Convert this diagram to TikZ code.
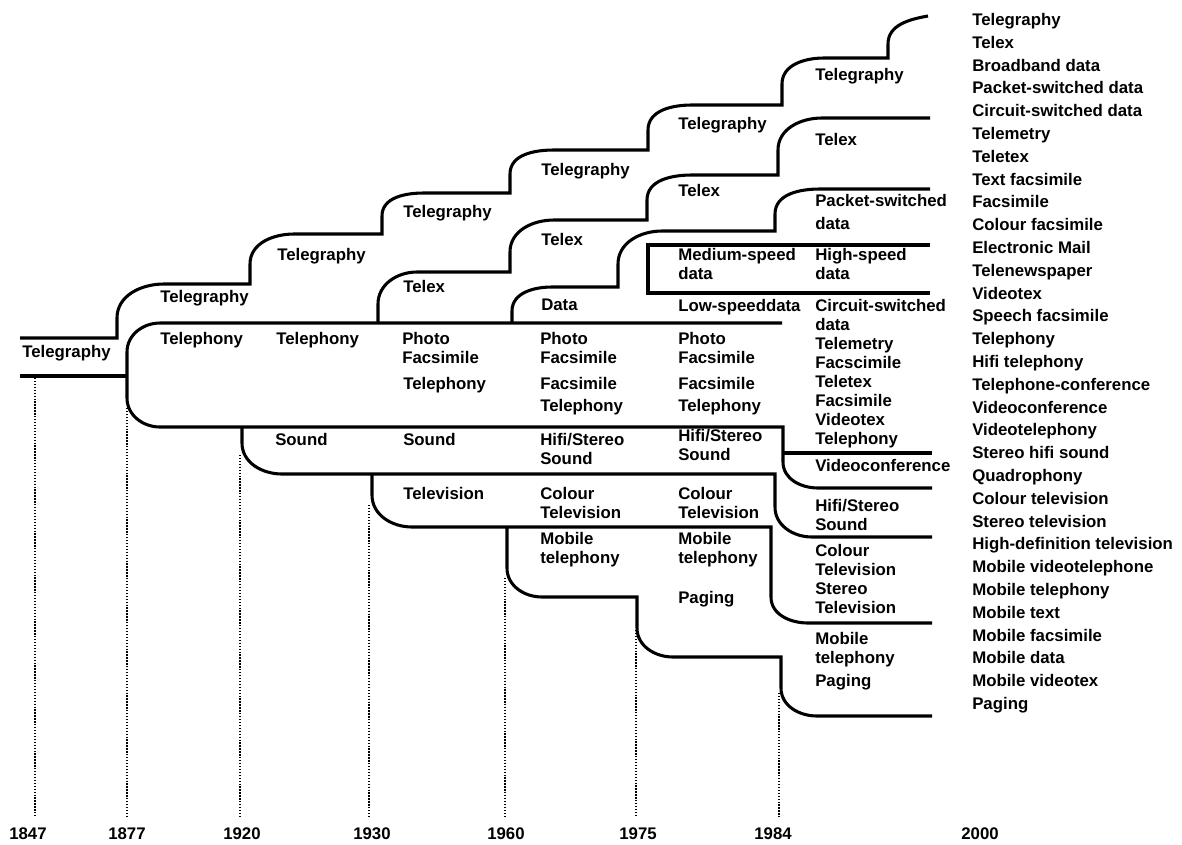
\documentclass[tikz,border=0pt]{standalone}
\usepackage{fontspec}
\setmainfont{Liberation Sans}
\newcommand\chartfont{\fontsize{12.6}{14.3}\selectfont\bfseries}
\begin{document}
\begin{tikzpicture}[x=0.75pt,y=0.75pt,
    band/.style={line width=2.3pt},
    yearline/.style={line width=1.1pt,dash pattern=on 1pt off 1.2pt},
    lbl/.style={anchor=north west,inner sep=0pt,align=left,font=\chartfont},
    yr/.style={anchor=base,inner sep=0pt,font=\chartfont}]
\fill[white] (0,0) rectangle (1182,-844);
\useasboundingbox (0,0) rectangle (1182,-844);
% bands
\draw[band] (20,-338) -- (117,-338) -- (117,-318) to[out=90,in=180] (164,-284) -- (250,-284) -- (250,-264) to[out=90,in=180] (294,-234) -- (382,-234) -- (382,-216) to[out=90,in=180] (424,-193) -- (510,-193) -- (510,-174) to[out=90,in=180] (554,-150) -- (648,-150) -- (648,-130) to[out=90,in=180] (692,-105) -- (782,-105) -- (782,-84) to[out=90,in=180] (824,-58) -- (888,-58) -- (888,-44) to[out=90,in=190] (928,-16);
\draw[band] (20,-376) -- (127,-376);
\draw[band] (378,-323) -- (378,-304) to[out=90,in=180] (417,-272) -- (510,-272) -- (510,-252) to[out=90,in=180] (554,-220) -- (647,-220) -- (647,-200) to[out=90,in=180] (692,-175) -- (778,-175) -- (778,-150) to[out=90,in=180] (822,-118) -- (930,-118);
\draw[band] (512,-323) -- (512,-311) to[out=90,in=180] (552,-287) -- (618,-287) -- (618,-264) to[out=90,in=180] (662,-231) -- (775,-231) -- (775,-214) to[out=90,in=180] (820,-189) -- (930,-189);
\draw[band] (930,-245) -- (648,-245) -- (648,-293) -- (930,-293);
\draw[band] (782,-323) -- (160,-323) to[out=180,in=90] (127,-352) -- (127,-398) to[out=-90,in=180] (160,-427) -- (783,-427) -- (783,-462) to[out=-90,in=180] (818,-488) -- (932,-488);
\draw[band] (783,-453) -- (932,-453);
\draw[band] (242,-427) -- (242,-443) to[out=-90,in=180] (282,-474) -- (775,-474) -- (775,-507) to[out=-90,in=180] (812,-537) -- (932,-537);
\draw[band] (372,-474) -- (372,-495) to[out=-90,in=180] (412,-527) -- (771,-527) -- (771,-597) to[out=-90,in=180] (808,-623) -- (932,-623);
\draw[band] (507,-527) -- (507,-568) to[out=-90,in=180] (542,-597) -- (637,-597) -- (637,-628) to[out=-90,in=180] (673,-657) -- (781,-657) -- (781,-688) to[out=-90,in=180] (817,-716) -- (932,-716);
% year lines
\draw[yearline] (35,-378) -- (35,-817);
\draw[yearline] (127,-408) -- (127,-817);
\draw[yearline] (240,-455) -- (240,-817);
\draw[yearline] (369,-505) -- (369,-817);
\draw[yearline] (505,-578) -- (505,-817);
\draw[yearline] (636,-630) -- (636,-817);
\draw[yearline] (779,-693) -- (779,-817);
\node[yr] (y1847) at (28,-839) {1847};
\node[yr] (y1877) at (127,-839) {1877};
\node[yr] (y1920) at (242,-839) {1920};
\node[yr] (y1930) at (372,-839) {1930};
\node[yr] (y1960) at (506,-839) {1960};
\node[yr] (y1975) at (638,-839) {1975};
\node[yr] (y1984) at (773,-839) {1984};
\node[yr] (y2000) at (980,-839) {2000};
% 1847
\node[lbl] (tg1847) at (22,-345) {Telegraphy};
% 1877
\node[lbl] (tg1877) at (160,-290) {Telegraphy};
\node[lbl] (tp1877) at (160,-332) {Telephony};
% 1920
\node[lbl] (tg1920) at (277,-248) {Telegraphy};
\node[lbl] (tp1920) at (276,-332) {Telephony};
\node[lbl] (so1920) at (275,-433) {Sound};
% 1930
\node[lbl] (tg1930) at (403,-205) {Telegraphy};
\node[lbl] (tx1930) at (403,-280) {Telex};
\node[lbl] (ph1930) at (402,-332) {Photo\\Facsimile};
\node[lbl] (tp1930) at (403,-377) {Telephony};
\node[lbl] (so1930) at (403,-433) {Sound};
\node[lbl] (tv1930) at (403,-487) {Television};
% 1960
\node[lbl] (tg1960) at (541,-163) {Telegraphy};
\node[lbl] (tx1960) at (541,-233) {Telex};
\node[lbl] (da1960) at (541,-299) {Data};
\node[lbl] (ph1960) at (540,-332) {Photo\\Facsimile};
\node[lbl] (fa1960) at (540,-377) {Facsimile\\[2pt]Telephony};
\node[lbl] (so1960) at (540,-433) {Hifi/Stereo\\Sound};
\node[lbl] (tv1960) at (540,-487) {Colour\\Television};
\node[lbl] (mo1960) at (540,-532) {Mobile\\telephony};
% 1975
\node[lbl] (tg1975) at (678,-117) {Telegraphy};
\node[lbl] (tx1975) at (678,-184) {Telex};
\node[lbl] (md1975) at (678,-248) {Medium-speed\\data};
\node[lbl] (ls1975) at (678,-299) {Low-speeddata};
\node[lbl] (ph1975) at (678,-332) {Photo\\Facsimile};
\node[lbl] (fa1975) at (678,-377) {Facsimile\\[2pt]Telephony};
\node[lbl] (so1975) at (678,-429) {Hifi/Stereo\\Sound};
\node[lbl] (tv1975) at (678,-487) {Colour\\Television};
\node[lbl] (mo1975) at (678,-532) {Mobile\\telephony};
\node[lbl] (pg1975) at (678,-591) {Paging};
% 1984
\node[lbl] (tg1984) at (815,-68) {Telegraphy};
\node[lbl] (tx1984) at (815,-133) {Telex};
\node[lbl] (ps1984) at (815,-194) {Packet-switched\\[3pt]data};
\node[lbl] (hs1984) at (815,-248) {High-speed\\data};
\node[lbl] (cs1984) at (815,-299) {Circuit-switched\\data\\Telemetry\\Facscimile\\Teletex\\Facsimile\\Videotex\\Telephony};
\node[lbl] (vc1984) at (815,-459) {Videoconference};
\node[lbl] (so1984) at (815,-499) {Hifi/Stereo\\Sound};
\node[lbl] (tv1984) at (815,-544) {Colour\\Television\\Stereo\\Television};
\node[lbl] (mo1984) at (815,-632) {Mobile\\telephony};
\node[lbl] (pg1984) at (815,-674) {Paging};
% 2000
\node[lbl,font=\fontsize{12.6}{17.1}\selectfont\bfseries] (sv2000) at (972,-13) {Telegraphy\\Telex\\Broadband data\\Packet-switched data\\Circuit-switched data\\Telemetry\\Teletex\\Text facsimile\\Facsimile\\Colour facsimile\\Electronic Mail\\Telenewspaper\\Videotex\\Speech facsimile\\Telephony\\Hifi telephony\\Telephone-conference\\Videoconference\\Videotelephony\\Stereo hifi sound\\Quadrophony\\Colour television\\Stereo television\\High-definition television\\Mobile videotelephone\\Mobile telephony\\Mobile text\\Mobile facsimile\\Mobile data\\Mobile videotex\\Paging};
\end{tikzpicture}
\end{document}
